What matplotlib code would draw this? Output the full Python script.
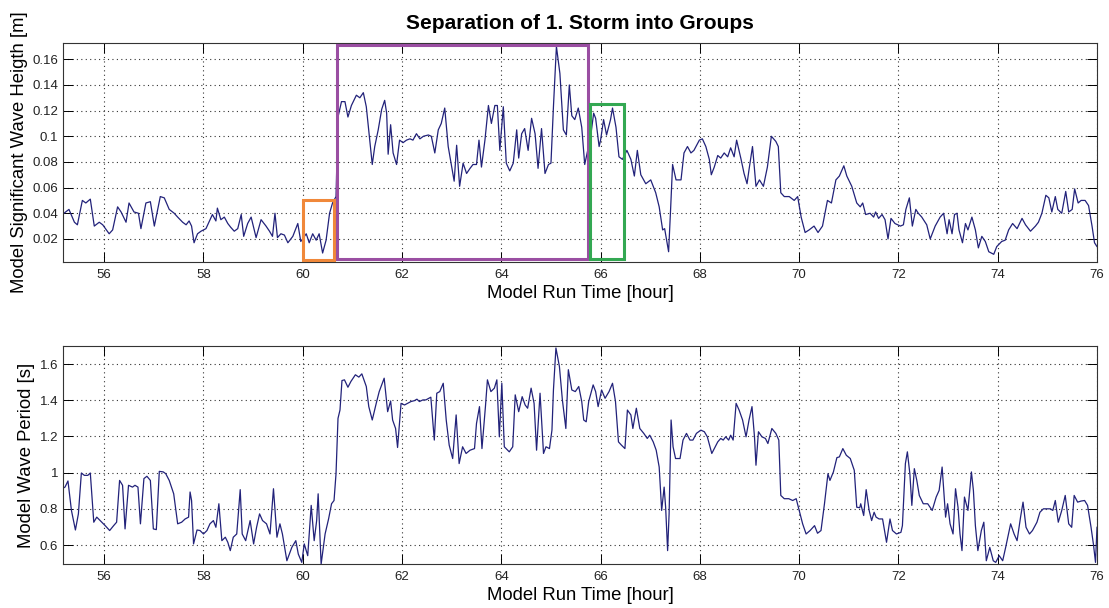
import matplotlib
matplotlib.use("Agg")
import matplotlib.pyplot as plt
from matplotlib.patches import Rectangle

plt.rcParams['font.family'] = ['Liberation Sans', 'DejaVu Sans']

# ---------------- data ----------------
top_time = [
    55.19, 55.29, 55.40, 55.46, 55.56, 55.63, 55.72, 55.80, 55.90, 55.97,
    56.10, 56.17, 56.27, 56.34, 56.44, 56.50, 56.60, 56.69, 56.74, 56.84,
    56.93, 57.01, 57.13, 57.21, 57.31, 57.41, 57.48, 57.58, 57.65, 57.71,
    57.76, 57.81, 57.88, 57.95, 58.05, 58.12, 58.18, 58.25, 58.28, 58.35,
    58.42, 58.49, 58.55, 58.62, 58.69, 58.76, 58.81, 58.89, 58.96, 59.06,
    59.16, 59.26, 59.33, 59.39, 59.44, 59.49, 59.56, 59.63, 59.70, 59.80,
    59.90, 59.96, 60.07, 60.13, 60.20, 60.27, 60.33, 60.40, 60.47, 60.54,
    60.60, 60.67,
    60.71, 60.78, 60.85, 60.91, 60.98, 61.08, 61.15, 61.22, 61.28, 61.35,
    61.40, 61.45, 61.52, 61.59, 61.65, 61.69, 61.72, 61.77, 61.82, 61.89,
    61.95, 62.02, 62.09, 62.16, 62.22, 62.29, 62.36, 62.43, 62.53, 62.59,
    62.66, 62.73, 62.79, 62.86, 62.93, 63.00, 63.05, 63.10, 63.16, 63.23,
    63.30, 63.37, 63.43, 63.50, 63.55, 63.60, 63.67, 63.74, 63.80, 63.87,
    63.92, 63.97, 64.04, 64.10, 64.17, 64.24, 64.31, 64.35, 64.41, 64.47,
    64.54, 64.61, 64.68, 64.74, 64.81, 64.88, 64.95, 65.00, 65.05, 65.11,
    65.18, 65.25, 65.31, 65.37, 65.42, 65.48, 65.55, 65.62, 65.68,
    65.80, 65.86, 65.90, 65.97, 66.00, 66.06, 66.12, 66.20, 66.24, 66.31,
    66.37, 66.44, 66.53, 66.61, 66.68, 66.74, 66.81, 66.91, 67.01, 67.11,
    67.18, 67.25, 67.29, 67.33, 67.37, 67.41, 67.45, 67.52, 67.62, 67.68,
    67.75, 67.82, 67.88, 67.99, 68.05, 68.12, 68.19, 68.23, 68.29, 68.36,
    68.42, 68.49, 68.56, 68.62, 68.69, 68.74, 68.83, 68.89, 68.95, 68.99,
    69.06, 69.13, 69.20, 69.28, 69.36, 69.44, 69.53, 69.58, 69.63, 69.70,
    69.80, 69.90, 69.97, 70.04, 70.12, 70.20, 70.30, 70.38, 70.47, 70.57,
    70.65, 70.74, 70.81, 70.90,
    70.96, 71.06, 71.16, 71.23, 71.28, 71.34, 71.43, 71.50, 71.54, 71.60,
    71.67, 71.73, 71.79, 71.85, 71.93, 72.04, 72.10, 72.15, 72.22, 72.28,
    72.35, 72.40, 72.47, 72.57, 72.64, 72.74, 72.84, 72.91, 72.98, 73.02,
    73.08, 73.13, 73.18, 73.22, 73.29, 73.35, 73.40, 73.48, 73.55, 73.61,
    73.68, 73.75, 73.82, 73.92, 73.98, 74.08, 74.15, 74.22, 74.30, 74.39,
    74.49, 74.56, 74.66, 74.76, 74.82, 74.89, 74.97, 75.03, 75.09, 75.16,
    75.21, 75.29, 75.37, 75.43, 75.50, 75.55, 75.62, 75.68, 75.76, 75.83,
    75.90, 75.95, 76.00,
]
top_hs = [
    0.040, 0.043, 0.033, 0.031, 0.050, 0.048, 0.051, 0.030, 0.033, 0.031,
    0.024, 0.027, 0.045, 0.041, 0.033, 0.048, 0.041, 0.040, 0.028, 0.048,
    0.049, 0.030, 0.053, 0.052, 0.043, 0.040, 0.037, 0.033, 0.031, 0.034,
    0.030, 0.017, 0.024, 0.026, 0.028, 0.034, 0.039, 0.034, 0.044, 0.035,
    0.037, 0.032, 0.029, 0.026, 0.028, 0.039, 0.022, 0.032, 0.037, 0.021,
    0.035, 0.030, 0.026, 0.022, 0.040, 0.021, 0.024, 0.023, 0.017, 0.022,
    0.032, 0.018, 0.024, 0.017, 0.024, 0.019, 0.024, 0.009, 0.019, 0.040,
    0.048, 0.053,
    0.115, 0.127, 0.127, 0.115, 0.124, 0.132, 0.130, 0.134, 0.123, 0.097,
    0.078, 0.092, 0.105, 0.121, 0.128, 0.118, 0.086, 0.109, 0.087, 0.078,
    0.097, 0.095, 0.097, 0.098, 0.097, 0.102, 0.098, 0.100, 0.101, 0.100,
    0.087, 0.105, 0.110, 0.122, 0.092, 0.076, 0.065, 0.093, 0.061, 0.079,
    0.071, 0.075, 0.078, 0.078, 0.097, 0.076, 0.097, 0.124, 0.110, 0.124,
    0.124, 0.089, 0.123, 0.079, 0.073, 0.079, 0.105, 0.083, 0.102, 0.106,
    0.089, 0.114, 0.102, 0.075, 0.106, 0.071, 0.078, 0.079, 0.123, 0.170,
    0.149, 0.105, 0.101, 0.140, 0.116, 0.113, 0.122, 0.107, 0.078,
    0.100, 0.118, 0.114, 0.092, 0.097, 0.113, 0.101, 0.113, 0.122, 0.107,
    0.084, 0.082, 0.089, 0.082, 0.069, 0.089, 0.070, 0.063, 0.066, 0.056,
    0.045, 0.027, 0.028, 0.019, 0.010, 0.043, 0.078, 0.066, 0.066, 0.087,
    0.092, 0.087, 0.089, 0.097, 0.098, 0.092, 0.082, 0.070, 0.076, 0.085,
    0.083, 0.087, 0.084, 0.091, 0.084, 0.097, 0.082, 0.071, 0.063, 0.074,
    0.092, 0.061, 0.066, 0.061, 0.076, 0.100, 0.096, 0.092, 0.056, 0.053,
    0.053, 0.050, 0.053, 0.037, 0.025, 0.027, 0.030, 0.025, 0.030, 0.050,
    0.048, 0.066, 0.069, 0.077,
    0.069, 0.061, 0.048, 0.045, 0.048, 0.039, 0.040, 0.037, 0.041, 0.036,
    0.039, 0.035, 0.020, 0.036, 0.032, 0.030, 0.031, 0.043, 0.052, 0.030,
    0.043, 0.040, 0.037, 0.031, 0.020, 0.030, 0.037, 0.040, 0.024, 0.035,
    0.024, 0.039, 0.040, 0.027, 0.017, 0.032, 0.027, 0.037, 0.027, 0.013,
    0.022, 0.018, 0.010, 0.008, 0.014, 0.018, 0.019, 0.027, 0.032, 0.028,
    0.036, 0.031, 0.026, 0.030, 0.033, 0.040, 0.054, 0.052, 0.041, 0.053,
    0.043, 0.040, 0.057, 0.041, 0.043, 0.059, 0.048, 0.050, 0.050, 0.046,
    0.030, 0.017, 0.014,
]

bot_time = [
    55.15, 55.21, 55.27, 55.34, 55.42, 55.48, 55.54, 55.60, 55.67, 55.72,
    55.79, 55.85, 55.92, 56.02, 56.11, 56.19, 56.25, 56.31, 56.37, 56.42,
    56.49, 56.57, 56.62, 56.68, 56.73, 56.80, 56.86, 56.93, 56.99, 57.05,
    57.11, 57.19, 57.24, 57.31, 57.40, 57.48, 57.56, 57.63, 57.70, 57.73,
    57.76, 57.80, 57.87, 57.93, 58.00, 58.07, 58.13, 58.20, 58.25, 58.31,
    58.37, 58.44, 58.49, 58.54, 58.60, 58.67, 58.74, 58.78, 58.85, 58.94,
    59.01, 59.07, 59.13, 59.19, 59.27, 59.34, 59.41, 59.48, 59.54, 59.59,
    59.68, 59.78, 59.86, 59.91, 59.98, 60.03, 60.10, 60.17, 60.23, 60.28,
    60.31, 60.37, 60.45, 60.52, 60.58, 60.63, 60.67, 60.71, 60.75,
    60.79, 60.84, 60.91, 60.97, 61.06, 61.13, 61.19, 61.28, 61.33, 61.40,
    61.48, 61.54, 61.64, 61.71, 61.77, 61.81, 61.87, 61.91, 61.98, 62.05,
    62.11, 62.18, 62.25, 62.30, 62.35, 62.42, 62.48, 62.58, 62.65, 62.70,
    62.76, 62.83, 62.89, 62.95, 63.02, 63.09, 63.15, 63.22, 63.29, 63.37,
    63.46, 63.50, 63.56, 63.61, 63.68, 63.72, 63.79, 63.86, 63.91, 63.96,
    64.01, 64.06, 64.16, 64.23, 64.28, 64.35, 64.42, 64.48, 64.53, 64.60,
    64.66, 64.71, 64.78, 64.85, 64.90, 64.97, 65.02, 65.05, 65.10, 65.17,
    65.23, 65.30, 65.35, 65.42, 65.49, 65.56, 65.62, 65.66, 65.71, 65.76,
    65.85, 65.90, 65.95, 66.02, 66.09, 66.17, 66.24,
    66.30, 66.36, 66.42, 66.49, 66.54, 66.61, 66.65, 66.72, 66.79, 66.87,
    66.94, 66.99, 67.06, 67.12, 67.18, 67.23, 67.28, 67.31, 67.35, 67.38,
    67.42, 67.46, 67.51, 67.60, 67.66, 67.73, 67.80, 67.86, 67.93, 68.02,
    68.09, 68.15, 68.24, 68.29, 68.36, 68.42, 68.47, 68.52, 68.58, 68.62,
    68.67, 68.73, 68.79, 68.86, 68.93, 68.99, 69.05, 69.10, 69.13, 69.18,
    69.25, 69.32, 69.37, 69.45, 69.53, 69.59, 69.63, 69.70, 69.79, 69.87,
    69.94, 70.00, 70.07, 70.14, 70.22, 70.31, 70.37, 70.44, 70.51, 70.58,
    70.62, 70.69, 70.76, 70.81, 70.88, 70.95, 71.03, 71.11, 71.16, 71.22,
    71.24, 71.30, 71.35, 71.41, 71.46, 71.51, 71.55, 71.61, 71.68, 71.76,
    71.83, 71.88, 71.96, 72.05, 72.08, 72.14, 72.18, 72.23, 72.27, 72.32,
    72.37, 72.42, 72.50, 72.59, 72.68, 72.76, 72.82, 72.88, 72.95, 72.99,
    73.04, 73.10, 73.15, 73.20, 73.24, 73.28, 73.33, 73.40, 73.47, 73.51,
    73.55, 73.60, 73.67, 73.72, 73.77, 73.84, 73.91, 73.96, 74.03, 74.10,
    74.16, 74.26, 74.33, 74.39, 74.46, 74.51, 74.57, 74.64, 74.70, 74.79,
    74.85, 74.92, 74.99, 75.06, 75.11, 75.16, 75.22, 75.29, 75.36, 75.43,
    75.49, 75.54, 75.61, 75.68, 75.75, 75.81, 75.88, 75.93, 75.97, 76.00,
]
bot_tp = [
    0.911, 0.920, 0.954, 0.791, 0.683, 0.772, 0.998, 0.985, 0.985, 0.998,
    0.726, 0.754, 0.735, 0.707, 0.680, 0.707, 0.726, 0.957, 0.930, 0.689,
    0.930, 0.920, 0.930, 0.920, 0.717, 0.967, 0.980, 0.957, 0.689, 0.685,
    1.007, 1.004, 0.994, 0.957, 0.883, 0.717, 0.726, 0.744, 0.754, 0.893,
    0.846, 0.606, 0.683, 0.680, 0.661, 0.680, 0.717, 0.735, 0.698, 0.828,
    0.624, 0.643, 0.615, 0.569, 0.643, 0.661, 0.906, 0.661, 0.624, 0.735,
    0.606, 0.698, 0.772, 0.735, 0.717, 0.661, 0.911, 0.643, 0.717, 0.661,
    0.513, 0.587, 0.624, 0.550, 0.504, 0.606, 0.541, 0.819, 0.624, 0.735,
    0.883, 0.494, 0.661, 0.744, 0.828, 0.846, 0.994, 1.300, 1.346,
    1.509, 1.513, 1.472, 1.504, 1.541, 1.528, 1.546, 1.476, 1.365, 1.291,
    1.383, 1.448, 1.522, 1.337, 1.396, 1.291, 1.244, 1.139, 1.383, 1.374,
    1.383, 1.393, 1.398, 1.406, 1.393, 1.402, 1.402, 1.417, 1.180, 1.439,
    1.448, 1.494, 1.291, 1.152, 1.078, 1.319, 1.050, 1.143, 1.106, 1.124,
    1.133, 1.272, 1.365, 1.133, 1.365, 1.513, 1.448, 1.467, 1.513, 1.198,
    1.494, 1.143, 1.115, 1.143, 1.430, 1.337, 1.420, 1.374, 1.356, 1.467,
    1.383, 1.124, 1.439, 1.106, 1.143, 1.133, 1.235, 1.457, 1.689, 1.587,
    1.402, 1.244, 1.569, 1.457, 1.448, 1.476, 1.393, 1.291, 1.281, 1.393,
    1.485, 1.448, 1.365, 1.457, 1.411, 1.448, 1.494,
    1.393, 1.170, 1.152, 1.133, 1.346, 1.319, 1.244, 1.356, 1.244, 1.217,
    1.189, 1.207, 1.170, 1.124, 1.031, 0.791, 0.920, 0.809, 0.569, 0.772,
    1.291, 1.143, 1.078, 1.078, 1.180, 1.217, 1.180, 1.180, 1.217, 1.235,
    1.226, 1.198, 1.106, 1.133, 1.170, 1.189, 1.180, 1.198, 1.180, 1.207,
    1.180, 1.383, 1.346, 1.291, 1.198, 1.291, 1.365, 1.198, 1.041, 1.226,
    1.198, 1.189, 1.161, 1.244, 1.217, 1.180, 0.874, 0.856, 0.856, 0.846,
    0.856, 0.791, 0.717, 0.661, 0.680, 0.707, 0.665, 0.680, 0.828, 0.994,
    0.957, 1.004, 1.083, 1.087, 1.133, 1.096, 1.078, 1.013, 0.809, 0.806,
    0.828, 0.763, 0.906, 0.791, 0.735, 0.781, 0.754, 0.744, 0.744, 0.615,
    0.744, 0.680, 0.661, 0.670, 0.707, 1.050, 1.115, 0.994, 0.819, 1.022,
    0.957, 0.874, 0.828, 0.828, 0.791, 0.865, 0.902, 1.031, 0.754, 0.828,
    0.717, 0.661, 0.911, 0.809, 0.661, 0.569, 0.865, 0.791, 1.004, 0.902,
    0.707, 0.569, 0.680, 0.726, 0.513, 0.587, 0.513, 0.504, 0.541, 0.513,
    0.587, 0.717, 0.661, 0.624, 0.754, 0.837, 0.698, 0.661, 0.680, 0.726,
    0.781, 0.800, 0.800, 0.800, 0.791, 0.846, 0.726, 0.791, 0.874, 0.717,
    0.698, 0.874, 0.837, 0.843, 0.846, 0.819, 0.698, 0.600, 0.504, 0.698,
]

# storm groups drawn as boxes on the top panel
group_start = [60.00, 60.68, 65.79]
group_end = [60.63, 65.74, 66.47]
group_low = [0.0037, 0.0044, 0.0040]
group_high = [0.050, 0.1715, 0.125]
group_colors = ['#f0883a', '#9a4ea2', '#33a852']

title = "Separation of 1. Storm into Groups"
xlabel = "Model Run Time [hour]"
ylabel_top = "Model Significant Wave Heigth [m]"
ylabel_bot = "Model Wave Period [s]"
xticks = [56, 58, 60, 62, 64, 66, 68, 70, 72, 74, 76]
yticks_top = [0.02, 0.04, 0.06, 0.08, 0.1, 0.12, 0.14, 0.16]
yticks_bot = [0.6, 0.8, 1.0, 1.2, 1.4, 1.6]

# ---------------- figure ----------------
W, H = 1109, 608
fig = plt.figure(figsize=(W / 100, H / 100), dpi=100)
ax1 = fig.add_axes([63 / W, 1 - 262 / H, (1097 - 63) / W, (262 - 43) / H])
ax2 = fig.add_axes([63 / W, 1 - 564 / H, (1097 - 63) / W, (564 - 346) / H])

line_color = '#22227a'
label_fs = 13.3

def style(ax, yticks, ylabels):
    ax.set_xlim(55.17, 76)
    ax.set_xticks(xticks)
    ax.set_xticklabels([str(v) for v in xticks])
    ax.set_yticks(yticks)
    ax.set_yticklabels(ylabels)
    ax.grid(True, color='black', linestyle=(0, (1, 3)), linewidth=0.8, alpha=0.8)
    ax.tick_params(direction='in', length=7.5, width=0.7, top=True, right=True,
                   labelsize=9.5, pad=3.5, colors='black', labelcolor='#222222')
    ax.tick_params(axis='x', pad=5)
    for s in ax.spines.values():
        s.set_linewidth(0.8)
        s.set_color('#333333')
    ax.set_xlabel(xlabel, fontsize=label_fs, labelpad=3)

ax1.plot(top_time, top_hs, color=line_color, linewidth=0.9)
ax1.set_ylim(0.002, 0.1727)
style(ax1, yticks_top, ['0.02', '0.04', '0.06', '0.08', '0.1', '0.12', '0.14', '0.16'])
ax1.set_ylabel(ylabel_top, fontsize=label_fs, labelpad=3)
ax1.set_title(title, fontsize=15, fontweight='bold', pad=10)

for x0, x1, y0, y1, c in zip(group_start, group_end, group_low, group_high, group_colors):
    ax1.add_patch(Rectangle((x0, y0), x1 - x0, y1 - y0, fill=False,
                            edgecolor=c, linewidth=2.2, zorder=5))

ax2.plot(bot_time, bot_tp, color=line_color, linewidth=0.9)
ax2.set_ylim(0.495, 1.70)
style(ax2, yticks_bot, ['0.6', '0.8', '1', '1.2', '1.4', '1.6'])
ax2.set_ylabel(ylabel_bot, fontsize=label_fs, labelpad=3)

fig.savefig("out.png", dpi=100)
